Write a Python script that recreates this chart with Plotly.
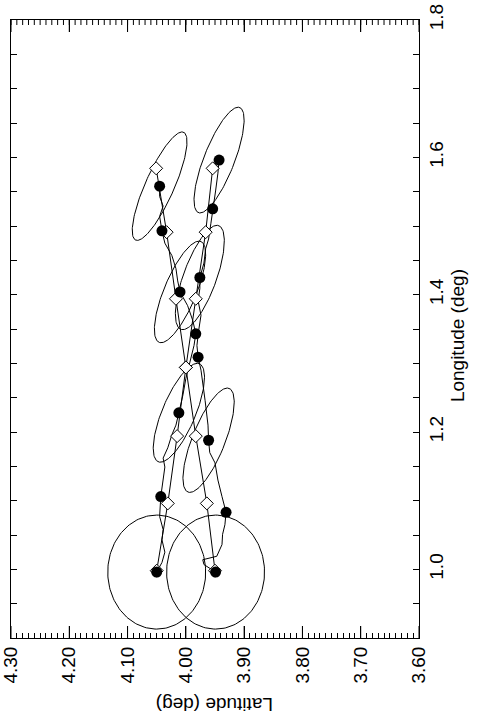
import numpy as np
import plotly.graph_objects as go

# ---- axis ticks ----
lat_tickvals = [4.30, 4.20, 4.10, 4.00, 3.90, 3.80, 3.70, 3.60]
lat_ticktext = ["4.30", "4.20", "4.10", "4.00", "3.90", "3.80", "3.70", "3.60"]
lat_major_step = 0.10
lat_minor_step = 0.01
lon_range = [0.90, 1.80]
lon_tick_step = 0.2
lon_minor_step = 0.05

# ---- true target positions (open diamonds) ----
true_lon = [0.998, 1.096, 1.194, 1.294, 1.394, 1.491, 1.584]
true_lat_a = [4.050, 4.031, 4.015, 4.000, 4.017, 4.033, 4.051]
true_lat_b = [3.950, 3.964, 3.983, 4.000, 3.983, 3.966, 3.954]

# ---- estimated positions (filled circles) ----
est_lat_a = [4.050, 4.043, 4.012, 3.983, 4.010, 4.041, 4.045]
est_lon_a = [0.996, 1.106, 1.228, 1.343, 1.404, 1.493, 1.558]
est_lat_b = [3.949, 3.931, 3.961, 3.979, 3.976, 3.954, 3.943]
est_lon_b = [0.996, 1.083, 1.188, 1.309, 1.425, 1.525, 1.596]

# ---- estimated track paths (wiggly lines) ----
path_lat_a = [4.050, 4.041, 4.036, 4.041, 4.039, 4.045, 4.043, 4.039, 4.036, 4.039,
              4.031, 4.024, 4.017, 4.012, 4.005, 4.000, 3.993, 3.986, 3.983, 3.988,
              3.997, 4.010, 4.014, 4.017, 4.024, 4.036, 4.041, 4.045, 4.039, 4.045, 4.045]
path_lon_a = [0.996, 1.010, 1.025, 1.043, 1.058, 1.077, 1.106, 1.130, 1.149, 1.162,
              1.177, 1.196, 1.210, 1.228, 1.254, 1.278, 1.301, 1.326, 1.343, 1.362,
              1.384, 1.404, 1.420, 1.438, 1.457, 1.475, 1.493, 1.514, 1.529, 1.543, 1.558]
path_lat_b = [3.949, 3.969, 3.971, 3.947, 3.938, 3.937, 3.933, 3.931, 3.938, 3.945,
              3.950, 3.959, 3.961, 3.962, 3.967, 3.974, 3.979, 3.981, 3.978, 3.974,
              3.979, 3.976, 3.976, 3.969, 3.966, 3.961, 3.957, 3.954, 3.949, 3.945, 3.943]
path_lon_b = [0.996, 1.007, 1.014, 1.019, 1.036, 1.051, 1.065, 1.083, 1.106, 1.130,
              1.155, 1.170, 1.188, 1.210, 1.246, 1.290, 1.309, 1.326, 1.348, 1.370,
              1.391, 1.409, 1.425, 1.446, 1.467, 1.481, 1.504, 1.525, 1.551, 1.577, 1.596]

# ---- error ellipses (at estimate indices) ----
ell_index = [0, 2, 4, 6]
ell_sig_lat_a = [0.084, 0.044, 0.044, 0.047]
ell_sig_lon_a = [0.083, 0.072, 0.074, 0.079]
ell_rho_a = [0.0, -0.72, -0.74, -0.82]
ell_sig_lat_b = [0.084, 0.044, 0.042, 0.043]
ell_sig_lon_b = [0.083, 0.076, 0.076, 0.077]
ell_rho_b = [0.0, -0.73, -0.70, -0.76]


# Latitude increases to the left: plot -latitude on a normal axis, label with +latitude
def neg(v):
    return [-x for x in v]


line_style = dict(color="black", width=1)
fig = go.Figure()


def ellipse(cx, cy, sx, sy, rho):
    cov = np.array([[sx * sx, rho * sx * sy], [rho * sx * sy, sy * sy]])
    vals, vecs = np.linalg.eigh(cov)
    t = np.linspace(0, 2 * np.pi, 181)
    circ = np.vstack([np.cos(t), np.sin(t)])
    pts = vecs @ (np.sqrt(vals)[:, None] * circ)
    return cx + pts[0], cy + pts[1]


for k, i in enumerate(ell_index):
    ex, ey = ellipse(est_lat_a[i], est_lon_a[i], ell_sig_lat_a[k], ell_sig_lon_a[k], ell_rho_a[k])
    fig.add_trace(go.Scatter(x=-ex, y=ey, mode="lines", line=line_style, hoverinfo="skip"))
    ex, ey = ellipse(est_lat_b[i], est_lon_b[i], ell_sig_lat_b[k], ell_sig_lon_b[k], ell_rho_b[k])
    fig.add_trace(go.Scatter(x=-ex, y=ey, mode="lines", line=line_style, hoverinfo="skip"))

# true tracks
fig.add_trace(go.Scatter(x=neg(true_lat_a), y=true_lon, mode="lines", line=line_style))
fig.add_trace(go.Scatter(x=neg(true_lat_b), y=true_lon, mode="lines", line=line_style))
# estimated tracks
fig.add_trace(go.Scatter(x=neg(path_lat_a), y=path_lon_a, mode="lines", line=line_style))
fig.add_trace(go.Scatter(x=neg(path_lat_b), y=path_lon_b, mode="lines", line=line_style))

# diamonds
fig.add_trace(go.Scatter(x=neg(true_lat_a + true_lat_b), y=true_lon + true_lon, mode="markers",
                         marker=dict(symbol="diamond", size=10, color="white",
                                     line=dict(color="black", width=1))))
# filled circles
fig.add_trace(go.Scatter(x=neg(est_lat_a + est_lat_b), y=est_lon_a + est_lon_b, mode="markers",
                         marker=dict(symbol="circle", size=11, color="black",
                                     line=dict(color="black", width=0))))

font = dict(family="Liberation Sans, Arial, sans-serif", size=19, color="black")
xrange = [-lat_tickvals[0], -lat_tickvals[-1]]

fig.update_layout(
    width=480, height=724,
    margin=dict(l=11, r=61, t=20, b=86, autoexpand=False),
    paper_bgcolor="white", plot_bgcolor="white",
    showlegend=False,
    font=font,
    xaxis=dict(
        range=xrange,
        tickmode="array", tickvals=neg(lat_tickvals), ticktext=lat_ticktext,
        tickangle=-90, ticks="inside", ticklen=12, tickwidth=1, tickcolor="black",
        showline=True, linecolor="black", linewidth=1, mirror="allticks",
        showgrid=False, zeroline=False, tickfont=font, automargin=False,
    ),
    xaxis2=dict(
        range=xrange, overlaying="x", side="bottom", anchor="y",
        tickmode="linear", tick0=xrange[0], dtick=lat_minor_step,
        ticks="inside", ticklen=5, tickwidth=1, tickcolor="black",
        showticklabels=False, showline=False,
        showgrid=False, zeroline=False, automargin=False,
    ),
    yaxis=dict(
        range=lon_range, tickmode="linear", tick0=1.0, dtick=lon_tick_step, tickformat=".1f",
        side="right",
        tickangle=-90, ticks="inside", ticklen=6, tickwidth=1, tickcolor="black",
        minor=dict(dtick=lon_minor_step, tick0=1.0, ticks="inside", ticklen=6,
                   tickwidth=1, tickcolor="black", showgrid=False),
        showline=True, linecolor="black", linewidth=1, mirror="allticks",
        showgrid=False, zeroline=False, tickfont=font, automargin=False,
    ),
    annotations=[
        dict(text="Longitude (deg)", xref="paper", yref="paper", x=1.093, y=0.49,
             textangle=-90, showarrow=False, font=font, xanchor="center", yanchor="middle"),
        dict(text="Latitude (deg)", xref="paper", yref="paper", x=0.5, y=-0.108,
             textangle=180, showarrow=False, font=font, xanchor="center", yanchor="middle"),
    ],
)
fig.add_trace(go.Scatter(x=[xrange[0]], y=[lon_range[0]], xaxis="x2", yaxis="y",
                         mode="markers", marker=dict(opacity=0), hoverinfo="skip"))

# tick marks along the top edge and long major ticks at the bottom edge
plot_h = 724 - 20 - 86
major_frac = 12 / plot_h
minor_frac = 5 / plot_h
minor_vals = np.round(np.arange(xrange[0], xrange[1] + 1e-9, lat_minor_step), 2)
tick_shapes = []
for v in minor_vals:
    tick_shapes.append(dict(type="line", xref="x", yref="y domain", x0=v, x1=v,
                            y0=1, y1=1 - minor_frac, line=dict(color="black", width=1)))
for v in neg(lat_tickvals):
    tick_shapes.append(dict(type="line", xref="x", yref="y domain", x0=v, x1=v,
                            y0=1, y1=1 - major_frac, line=dict(color="black", width=1)))
    tick_shapes.append(dict(type="line", xref="x", yref="y domain", x0=v, x1=v,
                            y0=0, y1=major_frac, line=dict(color="black", width=1)))
fig.update_layout(shapes=tick_shapes)

fig.write_html("out.html", config={"displayModeBar": False},
               post_script="document.body.style.margin='0';")
